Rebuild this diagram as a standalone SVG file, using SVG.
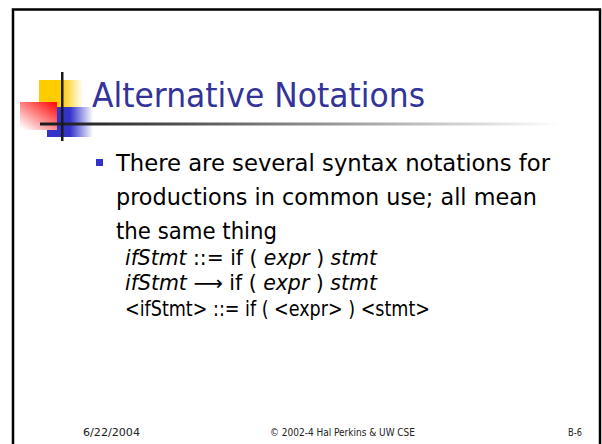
<svg xmlns="http://www.w3.org/2000/svg" width="602" height="444" viewBox="0 0 602 444">
  <style>
    .body { font-family: "DejaVu Sans Condensed", "DejaVu Sans", Verdana, sans-serif; fill: #000; }
    .title { font-family: "DejaVu Sans Condensed", "DejaVu Sans", Verdana, sans-serif; fill: #333399; font-size: 34px; }
    .it { font-style: italic; }
    .foot { font-family: "DejaVu Sans Condensed", "DejaVu Sans", Verdana, sans-serif; font-size: 11px; fill: #222; }
  </style>
  <defs>
    <linearGradient id="gYellow" x1="0" y1="0" x2="1" y2="0">
      <stop offset="0" stop-color="#FFCC00"/>
      <stop offset="0.52" stop-color="#FFCC00"/>
      <stop offset="1" stop-color="#FFFFFF"/>
    </linearGradient>
    <linearGradient id="gBlue" x1="0" y1="0" x2="1" y2="0">
      <stop offset="0" stop-color="#3333CC"/>
      <stop offset="0.5" stop-color="#3333CC"/>
      <stop offset="1" stop-color="#FFFFFF"/>
    </linearGradient>
    <linearGradient id="gRed" x1="1" y1="0" x2="0.1" y2="1">
      <stop offset="0" stop-color="#FF0000"/>
      <stop offset="1" stop-color="#FFFFFF"/>
    </linearGradient>
    <linearGradient id="gLine" gradientUnits="userSpaceOnUse" x1="40" y1="0" x2="560" y2="0">
      <stop offset="0" stop-color="#1a1a1a"/>
      <stop offset="0.1" stop-color="#2a2a2a"/>
      <stop offset="1" stop-color="#FFFFFF"/>
    </linearGradient>
  </defs>
  <rect width="602" height="444" fill="#FFFFFF"/>
  <rect id="frame" x="13" y="9.5" width="587" height="450" fill="none" stroke="#000" stroke-width="2.5"/>

  <g id="logo">
    <rect x="39" y="80" width="44" height="27" fill="url(#gYellow)"/>
    <rect x="47" y="107" width="46" height="30" fill="url(#gBlue)"/>
    <rect x="20" y="102" width="37" height="28" fill="url(#gRed)"/>
    <rect x="40" y="122.5" width="520" height="3" fill="url(#gLine)"/>
    <rect x="61" y="72" width="2.5" height="69" fill="#1a1a1a"/>
  </g>

  <g id="title">
    <text class="title" x="92" y="107" textLength="333" lengthAdjust="spacingAndGlyphs">Alternative Notations</text>
  </g>

  <g id="content">
    <rect x="96" y="159" width="7" height="7" fill="#3333CC"/>
    <text class="body" font-size="23" x="116" y="171" textLength="434" lengthAdjust="spacingAndGlyphs">There are several syntax notations for</text>
    <text class="body" font-size="23" x="116" y="205" textLength="421" lengthAdjust="spacingAndGlyphs">productions in common use; all mean</text>
    <text class="body" font-size="23" x="116" y="239" textLength="161" lengthAdjust="spacingAndGlyphs">the same thing</text>
    <text class="body" font-size="20.5" x="125" y="265" textLength="252" lengthAdjust="spacingAndGlyphs"><tspan class="it">ifStmt</tspan> ::= if ( <tspan class="it">expr</tspan> ) <tspan class="it">stmt</tspan></text>
    <text class="body" font-size="20.5" x="125" y="290" textLength="252" lengthAdjust="spacingAndGlyphs"><tspan class="it">ifStmt</tspan> ⟶ if ( <tspan class="it">expr</tspan> ) <tspan class="it">stmt</tspan></text>
    <text class="body" font-size="20.5" x="125" y="316" textLength="305" lengthAdjust="spacingAndGlyphs">&lt;ifStmt&gt; ::= if ( &lt;expr&gt; ) &lt;stmt&gt;</text>
  </g>

  <g id="footer">
    <text class="foot" x="83" y="436" textLength="57" lengthAdjust="spacingAndGlyphs">6/22/2004</text>
    <text class="foot" x="270" y="436" textLength="145" lengthAdjust="spacingAndGlyphs">© 2002-4 Hal Perkins &amp; UW CSE</text>
    <text class="foot" x="568" y="436" textLength="14" lengthAdjust="spacingAndGlyphs">B-6</text>
  </g>
</svg>
